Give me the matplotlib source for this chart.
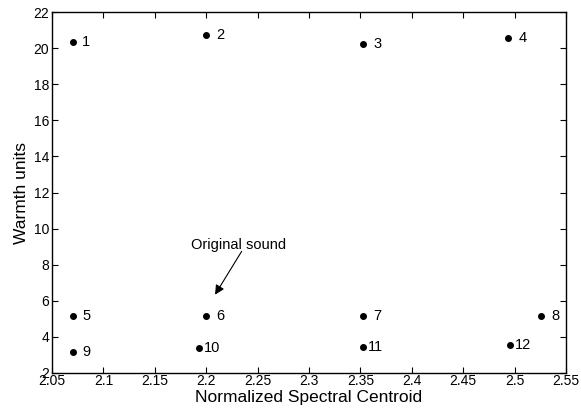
import matplotlib
matplotlib.use("Agg")
import matplotlib.pyplot as plt

# Sound positions in the centroid / warmth plane
centroid = [2.070, 2.200, 2.353, 2.494,
            2.070, 2.200, 2.353, 2.526,
            2.070, 2.193, 2.353, 2.496]
warmth = [20.35, 20.74, 20.24, 20.54,
          5.14, 5.14, 5.14, 5.14,
          3.18, 3.40, 3.42, 3.55]
labels = [str(i) for i in range(1, 13)]

plt.rcParams["font.family"] = ["Liberation Sans", "DejaVu Sans"]

fig = plt.figure(figsize=(5.81, 4.09), dpi=100)
ax = fig.add_axes([52 / 581, 1 - 373 / 409, 514 / 581, 361 / 409])

ax.plot(centroid, warmth, "o", color="black", markersize=4, linestyle="none")

# Number labels sit just right of each dot
for x, y, lab in zip(centroid, warmth, labels):
    dx = 3.5 if len(lab) > 1 else 7
    ax.annotate(lab, (x, y), xytext=(dx, 0), textcoords="offset points",
                va="center", ha="left", fontsize=10.5)

ax.text(2.231, 9.11, "Original sound", ha="center", va="center", fontsize=10.5)
ax.annotate("", xy=(2.2086, 6.34), xytext=(2.2345, 8.74),
            arrowprops=dict(arrowstyle="-|>", color="black", lw=0.8,
                            shrinkA=0, shrinkB=0, mutation_scale=14))

ax.set_xlim(2.05, 2.55)
ax.set_ylim(2, 22)
ax.set_xticks([2.05, 2.1, 2.15, 2.2, 2.25, 2.3, 2.35, 2.4, 2.45, 2.5, 2.55])
ax.set_xticklabels(["2.05", "2.1", "2.15", "2.2", "2.25", "2.3", "2.35",
                    "2.4", "2.45", "2.5", "2.55"])
ax.set_yticks(range(2, 23, 2))
ax.tick_params(direction="in", top=True, right=True, length=4,
               labelsize=10, pad=2)
ax.tick_params(axis="x", pad=1)
for s in ax.spines.values():
    s.set_linewidth(1.0)

ax.set_xlabel("Normalized Spectral Centroid", fontsize=12.5, labelpad=1)
ax.set_ylabel("Warmth units", fontsize=12.5, labelpad=3)

fig.savefig("out.png", dpi=100)
